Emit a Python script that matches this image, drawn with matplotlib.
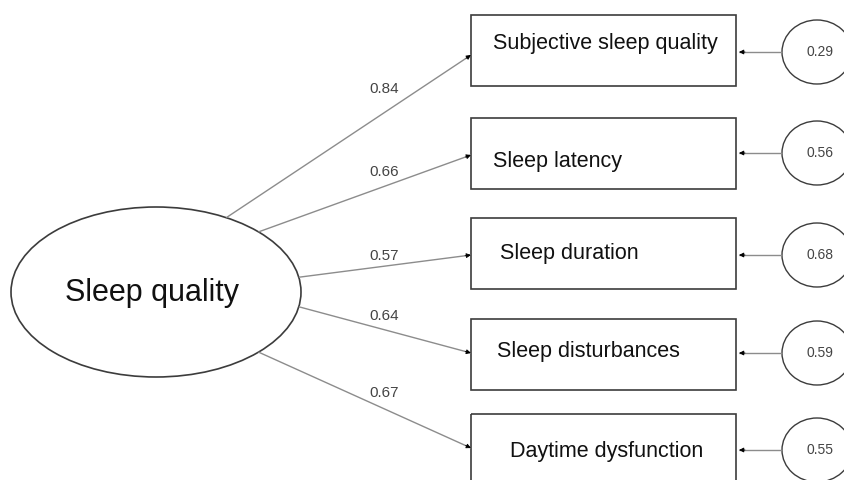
import numpy as np
import matplotlib
matplotlib.use("Agg")
import matplotlib.pyplot as plt
from matplotlib.patches import Ellipse, Rectangle

# --- data -----------------------------------------------------------------
latent = "Sleep quality"
indicators = ["Subjective sleep quality", "Sleep latency", "Sleep duration",
              "Sleep disturbances", "Daytime dysfunction"]
loadings = [0.84, 0.66, 0.57, 0.64, 0.67]
error_vars = [0.29, 0.56, 0.68, 0.59, 0.55]

# --- layout (pixel coords, y down) -----------------------------------------
W, H = 845, 480
ell_c, ell_w, ell_h = (156, 292), 290, 170
box_x, box_w, box_h = 471, 265, 71
box_top = [15, 118, 218, 319, 414]
arrow_y = [55, 155, 255, 353, 448]
start_deg = [61, 45, 10, -10, -45]      # where each path leaves the ellipse
label_x = 384
label_y = [89, 172, 256, 316, 393]
text_x = [493, 493, 500, 497, 510]
text_y = [43, 162, 254, 352, 452]
err_cx, err_rx, err_ry = 817, 35, 32
err_y = [52, 153, 255, 353, 450]

LINE = "#8c8c8c"
EDGE = "#3c3c3c"
FONT = "Liberation Sans"

fig = plt.figure(figsize=(W / 100, H / 100), dpi=100)
ax = fig.add_axes([0, 0, 1, 1])
ax.set_xlim(0, W)
ax.set_ylim(H, 0)
ax.axis("off")


def arrow(x0, y0, x1, y1):
    ax.plot([x0, x1], [y0, y1], color=LINE, lw=1.0, solid_capstyle="butt")
    d = np.array([x1 - x0, y1 - y0], float)
    d /= np.hypot(*d)
    ax.annotate("", xy=(x1, y1), xytext=(x1 - 6 * d[0], y1 - 6 * d[1]),
                arrowprops=dict(arrowstyle="-|>", color="black",
                                mutation_scale=7, lw=0.6,
                                shrinkA=0, shrinkB=0))


# latent variable
ax.add_patch(Ellipse(ell_c, ell_w, ell_h, fill=False, ec=EDGE, lw=1.2))
ax.text(ell_c[0] - 4, ell_c[1] + 1, latent, ha="center", va="center",
        fontsize=22, family=FONT, color="#111111")

for i, name in enumerate(indicators):
    # observed indicator box
    ax.add_patch(Rectangle((box_x, box_top[i]), box_w, box_h, fill=False,
                           ec=EDGE, lw=1.2))
    ax.text(text_x[i], text_y[i], name, ha="left", va="center",
            fontsize=15.5, family=FONT, color="#111111")

    # loading path
    t = np.deg2rad(start_deg[i])
    sx = ell_c[0] + ell_w / 2 * np.cos(t)
    sy = ell_c[1] - ell_h / 2 * np.sin(t)
    arrow(sx, sy, box_x, arrow_y[i])
    ax.text(label_x, label_y[i], f"{loadings[i]:.2f}", ha="center",
            va="center", fontsize=11, family=FONT, color="#444444")

    # error term
    ax.add_patch(Ellipse((err_cx, err_y[i]), 2 * err_rx, 2 * err_ry,
                         fill=False, ec=EDGE, lw=1.0))
    ax.text(err_cx + 3, err_y[i], f"{error_vars[i]:.2f}", ha="center",
            va="center", fontsize=10, family=FONT, color="#444444")
    arrow(err_cx - err_rx, err_y[i], box_x + box_w + 3, err_y[i])

fig.savefig("out.png", dpi=100)
